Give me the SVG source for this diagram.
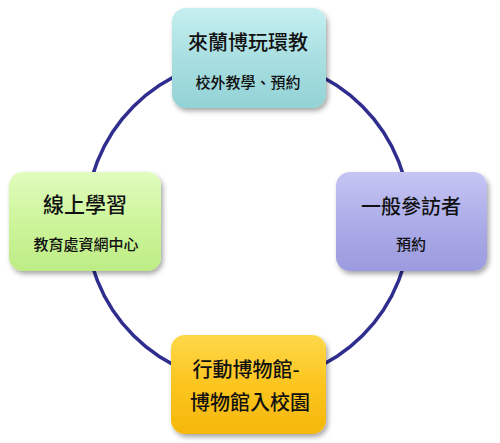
<svg xmlns="http://www.w3.org/2000/svg" width="500" height="443" viewBox="0 0 500 443">
<defs>
<style>
.t{font-family:"Noto Sans CJK TC","Noto Sans CJK SC",sans-serif;fill:#111;text-anchor:middle;dominant-baseline:central;font-weight:500}
.h{font-size:20px}
.s{font-size:15px}
.box{filter:url(#sh)}
</style>
<filter id="sh" x="-10%" y="-10%" width="125%" height="130%">
<feDropShadow dx="2" dy="3" stdDeviation="2.5" flood-color="#000" flood-opacity="0.35"/>
</filter>
<linearGradient id="gT" x1="0" y1="0" x2="0" y2="1"><stop offset="0" stop-color="#c6eff0"/><stop offset="0.5" stop-color="#a9dfe1"/><stop offset="1" stop-color="#93d2d6"/></linearGradient>
<linearGradient id="gL" x1="0" y1="0" x2="0" y2="1"><stop offset="0" stop-color="#e0fcbd"/><stop offset="0.5" stop-color="#cdf59c"/><stop offset="1" stop-color="#bdec84"/></linearGradient>
<linearGradient id="gR" x1="0" y1="0" x2="0" y2="1"><stop offset="0" stop-color="#c6c6f4"/><stop offset="0.5" stop-color="#adade9"/><stop offset="1" stop-color="#9b9bdf"/></linearGradient>
<linearGradient id="gB" x1="0" y1="0" x2="0" y2="1"><stop offset="0" stop-color="#fed84a"/><stop offset="0.5" stop-color="#fcc51f"/><stop offset="1" stop-color="#f5b70a"/></linearGradient>
</defs>
<rect width="500" height="443" fill="#fff"/>
<g id="connectors">
<circle cx="248" cy="221" r="162" fill="none" stroke="#2f2d8e" stroke-width="3.5"/>
</g>
<g id="top">
<rect class="box" x="172" y="8" width="154" height="100" rx="14" fill="url(#gT)"/>
<text class="t h" x="248" y="41">來蘭博玩環教</text>
<text class="t s" x="248" y="81">校外教學、預約</text>
</g>
<g id="left">
<rect class="box" x="9" y="172" width="152" height="99" rx="14" fill="url(#gL)"/>
<text class="t h" x="85" y="203" style="font-size:21px">線上學習</text>
<text class="t s" x="86" y="243">教育處資網中心</text>
</g>
<g id="right">
<rect class="box" x="336" y="172" width="151" height="99" rx="14" fill="url(#gR)"/>
<text class="t h" x="411" y="205">一般參訪者</text>
<text class="t s" x="411" y="243">預約</text>
</g>
<g id="bottom">
<rect class="box" x="171" y="335" width="155" height="99" rx="14" fill="url(#gB)"/>
<text class="t h" x="246" y="368">行動博物館-</text>
<text class="t h" x="250" y="401">博物館入校園</text>
</g>
</svg>
